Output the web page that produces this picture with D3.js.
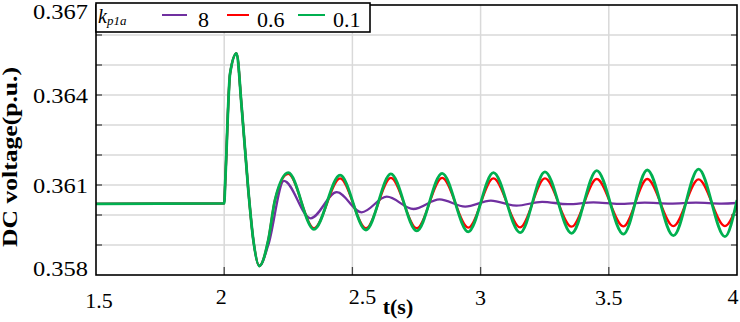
<!DOCTYPE html>
<html>
<head>
<meta charset="utf-8">
<script src="https://cdn.jsdelivr.net/npm/d3@7"></script>
<style>
  html, body { margin: 0; padding: 0; background: #fff; }
  svg { display: block; }
</style>
</head>
<body>
<svg id="chart" width="740" height="322"></svg>
<script>
// ---------------- data ----------------
const xTicks = [1.5, 2, 2.5, 3, 3.5, 4];
const xTickLabels = ["1.5", "2", "2.5", "3", "3.5", "4"];
const yTicks = [0.358, 0.361, 0.364, 0.367];
const yTickLabels = ["0.358", "0.361", "0.364", "0.367"];
const yGrid = [0.359, 0.360, 0.361, 0.362, 0.363, 0.364, 0.365, 0.366];

const legendNames = ["8", "0.6", "0.1"];
const seriesColors = ["#7030A0", "#FF0000", "#00B050"];

// kp1a = 8 (purple)
const t8 = [1.5, 2.0, 2.004, 2.023, 2.048, 2.068, 2.094, 2.1135, 2.137, 2.172, 2.233, 2.337, 2.439, 2.536, 2.634, 2.738, 2.84, 2.94, 3.04, 3.14, 3.24, 3.34, 3.44, 3.54, 3.64, 3.74, 3.84, 3.94, 4.0];
const v8 = [0.36037, 0.36039, 0.3611, 0.36472, 0.36539, 0.36361, 0.36083, 0.35917, 0.3583, 0.3590, 0.36114, 0.35989, 0.36076, 0.36009, 0.36061, 0.3602, 0.36052, 0.36028, 0.36048, 0.36031, 0.36044, 0.36036, 0.36042, 0.36037, 0.36041, 0.36038, 0.36041, 0.36038, 0.3604];

// kp1a = 0.6 (red)
const t06 = [1.5, 2.0, 2.004, 2.023, 2.048, 2.068, 2.094, 2.1135, 2.137, 2.172, 2.198, 2.25, 2.35, 2.452, 2.553, 2.65, 2.751, 2.85, 2.952, 3.05, 3.154, 3.251, 3.355, 3.453, 3.557, 3.65, 3.752, 3.85, 3.953, 4.0];
const v06 = [0.36037, 0.36039, 0.3611, 0.36472, 0.36539, 0.36361, 0.36083, 0.35917, 0.3583, 0.35917, 0.3605, 0.36137, 0.35956, 0.36122, 0.35956, 0.36124, 0.35956, 0.36124, 0.35958, 0.36122, 0.35959, 0.36122, 0.35961, 0.3612, 0.35962, 0.3612, 0.35963, 0.36119, 0.35963, 0.3603];

// kp1a = 0.1 (green)
const t01 = [1.5, 2.0, 2.004, 2.023, 2.048, 2.068, 2.094, 2.1135, 2.137, 2.172, 2.198, 2.25, 2.35, 2.452, 2.553, 2.65, 2.751, 2.85, 2.952, 3.05, 3.154, 3.251, 3.355, 3.453, 3.557, 3.65, 3.752, 3.85, 3.953, 4.0];
const v01 = [0.36037, 0.36039, 0.3611, 0.36472, 0.36539, 0.36361, 0.36083, 0.35917, 0.3583, 0.35917, 0.3605, 0.36141, 0.35952, 0.36133, 0.3595, 0.36137, 0.35947, 0.36139, 0.35944, 0.36141, 0.35941, 0.36144, 0.35939, 0.36148, 0.35936, 0.3615, 0.35931, 0.36153, 0.35928, 0.3605];

const seriesT = [t8, t06, t01];
const seriesV = [v8, v06, v01];
const seriesWidth = [2.3, 2.3, 2.8];

// ---------------- layout ----------------
const FONT = "'Liberation Serif', serif";
const svg = d3.select("#chart");
const L = 96, R = 737, T = 5, B = 275;
const x = d3.scaleLinear().domain([1.5, 4]).range([L, R]);
const y = d3.scaleLinear().domain([0.358, 0.367]).range([B, T]);

svg.append("rect").attr("width", 740).attr("height", 322).attr("fill", "#fff");

// grid
const grid = svg.append("g");
grid.selectAll(".gv").data(xTicks.slice(1, -1)).enter().append("line")
  .attr("x1", d => x(d)).attr("x2", d => x(d)).attr("y1", T).attr("y2", B)
  .attr("stroke", "#d9d9d9").attr("stroke-width", 1.5);
grid.selectAll(".gh").data(yGrid).enter().append("line")
  .attr("x1", L).attr("x2", R).attr("y1", d => y(d)).attr("y2", d => y(d))
  .attr("stroke", "#d9d9d9").attr("stroke-width", 1.5);

// axis ticks (inward)
const tk = svg.append("g").attr("stroke", "#444").attr("stroke-width", 1.3);
tk.selectAll(".tl").data(yGrid).enter().append("line")
  .attr("x1", L).attr("x2", L + 6).attr("y1", d => y(d)).attr("y2", d => y(d));
tk.selectAll(".tr").data(yGrid).enter().append("line")
  .attr("x1", R - 6).attr("x2", R).attr("y1", d => y(d)).attr("y2", d => y(d));
tk.selectAll(".tb").data(xTicks.slice(1, -1)).enter().append("line")
  .attr("x1", d => x(d)).attr("x2", d => x(d)).attr("y1", B).attr("y2", B - 8);

// curves
svg.append("clipPath").attr("id", "clip").append("rect")
  .attr("x", L).attr("y", T).attr("width", R - L).attr("height", B - T);
const line = d3.line().x(d => x(d[0])).y(d => y(d[1])).curve(d3.curveMonotoneX);
const curves = svg.append("g").attr("clip-path", "url(#clip)");
seriesT.forEach((ts, i) => {
  const pts = ts.map((t, j) => [t, seriesV[i][j]]);
  curves.append("path").attr("d", line(pts)).attr("fill", "none")
    .attr("stroke", seriesColors[i]).attr("stroke-width", seriesWidth[i])
    .attr("stroke-linejoin", "round");
});

// frame
svg.append("rect").attr("x", L).attr("y", T).attr("width", R - L).attr("height", B - T)
  .attr("fill", "none").attr("stroke", "#000").attr("stroke-width", 1.6);

// y tick labels
svg.selectAll(".yl").data(yTicks).enter().append("text")
  .style("font-family", FONT)
  .attr("x", 88)
  .attr("y", d => Math.min(Math.max(y(d), T + 6), B - 7))
  .attr("dy", "0.35em")
  .attr("text-anchor", "end")
  .style("font-size", "22px")
  .attr("textLength", 55).attr("lengthAdjust", "spacingAndGlyphs")
  .text((d, i) => yTickLabels[i]);

// x tick labels
const xLabelDx = [3, -3, 10, 0, 0, -4];
const xLabelDy = [4, 0, 0, 1, 1, 0];
svg.selectAll(".xl").data(xTicks).enter().append("text")
  .style("font-family", FONT)
  .attr("x", (d, i) => x(d) + xLabelDx[i])
  .attr("y", (d, i) => 304 + xLabelDy[i])
  .attr("text-anchor", "middle")
  .style("font-size", "22px")
  .text((d, i) => xTickLabels[i]);

// axis titles
svg.append("text").style("font-family", FONT).attr("x", 398).attr("y", 314).attr("text-anchor", "middle")
  .style("font-size", "22px").style("font-weight", "bold").text("t(s)");
svg.append("text").style("font-family", FONT)
  .attr("transform", "translate(17,157) rotate(-90)")
  .attr("text-anchor", "middle").style("font-size", "20px").style("font-weight", "bold")
  .attr("textLength", 180).attr("lengthAdjust", "spacingAndGlyphs")
  .text("DC voltage(p.u.)");

// legend
const lg = svg.append("g");
lg.append("rect").attr("x", 96).attr("y", 3).attr("width", 274).attr("height", 29)
  .attr("fill", "#fff").attr("stroke", "#000").attr("stroke-width", 1.6);
const kt = lg.append("text").style("font-family", FONT).attr("x", 98).attr("y", 23)
  .style("font-style", "italic").style("font-size", "20px");
kt.append("tspan").text("k");
kt.append("tspan").style("font-size", "13px").attr("dy", 2).text("p1a");
const legLineX = [162, 227, 298];
const legLineW = [25, 22, 27];
const legTextX = [198, 257, 333];
legendNames.forEach((n, i) => {
  lg.append("line").attr("x1", legLineX[i]).attr("x2", legLineX[i] + legLineW[i])
    .attr("y1", 15).attr("y2", 15).attr("stroke", seriesColors[i]).attr("stroke-width", 2);
  lg.append("text").style("font-family", FONT).attr("x", legTextX[i]).attr("y", 27)
    .style("font-size", "22px").text(n);
});
</script>
</body>
</html>
